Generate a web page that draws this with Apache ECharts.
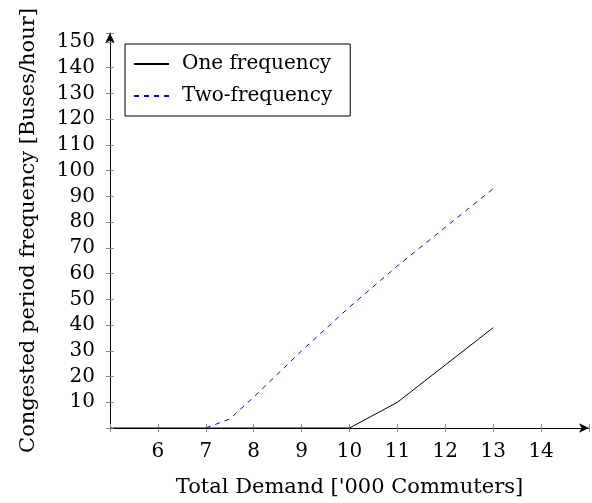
<!DOCTYPE html>
<html>
<head>
<meta charset="utf-8">
<script src="https://cdn.jsdelivr.net/npm/echarts@6/dist/echarts.min.js"></script>
<style>html,body{margin:0;padding:0;background:#fff}#c{width:592px;height:503px}</style>
</head>
<body>
<div id="c"></div>
<script>
const seriesNames = ['One frequency', 'Two-frequency'];
const oneFreqX = [5, 10, 11, 12, 13];
const oneFreqY = [0, 0, 10, 24.5, 39];
const twoFreqX = [7, 7.5, 8, 9, 10, 11, 12, 13];
const twoFreqY = [0, 3.5, 12, 30, 47, 63, 78, 93];
const xTickLabels = [6, 7, 8, 9, 10, 11, 12, 13, 14];
const yTickLabels = [10, 20, 30, 40, 50, 60, 70, 80, 90, 100, 110, 120, 130, 140, 150];
const xTitle = "Total Demand ['000 Commuters]";
const yTitle = 'Congested period frequency [Buses/hour]';

const FONT = 'DejaVu Serif';
const chart = echarts.init(document.getElementById('c'), null, {renderer: 'canvas'});
const xBase = {
  type: 'value', min: 5, max: 15, interval: 1, position: 'bottom',
  splitLine: {show: false}
};
const yBase = {
  type: 'value', min: 0, max: 153.5, interval: 10, position: 'left',
  splitLine: {show: false}
};
chart.setOption({
  animation: false,
  textStyle: {fontFamily: FONT, color: '#000'},
  grid: {left: 110, right: 1, top: 33, height: 399, containLabel: false},
  legend: {
    left: 125, top: 44, orient: 'vertical',
    borderColor: '#000', borderWidth: 1, padding: [10, 18, 10, 8],
    itemWidth: 35, itemHeight: 10, itemGap: 12,
    itemStyle: {opacity: 0},
    textStyle: {fontFamily: FONT, fontSize: 20, color: '#000', padding: [0, 0, 0, 8]},
    data: seriesNames
  },
  xAxis: [
    Object.assign({}, xBase, {
      name: xTitle, nameLocation: 'middle', nameGap: 49,
      nameTextStyle: {fontFamily: FONT, fontSize: 21, color: '#000'},
      axisLine: {lineStyle: {color: '#000', width: 1}, symbol: ['none', 'arrow'], symbolSize: [7, 10]},
      axisTick: {inside: false, length: 4, lineStyle: {color: '#888'}},
      axisLabel: {
        fontFamily: FONT, fontSize: 20, color: '#000', margin: 14,
        formatter: v => (xTickLabels.indexOf(v) >= 0 ? String(v) : '')
      }
    }),
    Object.assign({}, xBase, {
      axisLine: {show: false},
      axisTick: {inside: true, length: 4, lineStyle: {color: '#888'}},
      axisLabel: {show: false}
    })
  ],
  yAxis: [
    Object.assign({}, yBase, {
      name: yTitle, nameLocation: 'middle', nameGap: 71,
      nameTextStyle: {fontFamily: FONT, fontSize: 21, color: '#000'},
      axisLine: {lineStyle: {color: '#000', width: 1}, symbol: ['none', 'arrow'], symbolSize: [7, 10]},
      axisTick: {inside: false, length: 4, lineStyle: {color: '#888'}},
      axisLabel: {
        fontFamily: FONT, fontSize: 20, color: '#000', margin: 15,
        formatter: v => (yTickLabels.indexOf(v) >= 0 ? String(v) : '')
      }
    }),
    Object.assign({}, yBase, {
      axisLine: {show: false},
      axisTick: {inside: true, length: 4, lineStyle: {color: '#888'}},
      axisLabel: {show: false}
    })
  ],
  series: [
    {
      name: seriesNames[0], type: 'line', xAxisIndex: 0, yAxisIndex: 0,
      data: oneFreqX.map((x, i) => [x, oneFreqY[i]]),
      symbol: 'none', lineStyle: {color: '#000', width: 1}, itemStyle: {color: '#000'}
    },
    {
      name: seriesNames[1], type: 'line', xAxisIndex: 0, yAxisIndex: 0,
      data: twoFreqX.map((x, i) => [x, twoFreqY[i]]),
      symbol: 'none', lineStyle: {color: '#0000ff', width: 1, type: [5, 5]}, itemStyle: {color: '#0000ff'}
    }
  ]
});
</script>
</body>
</html>
